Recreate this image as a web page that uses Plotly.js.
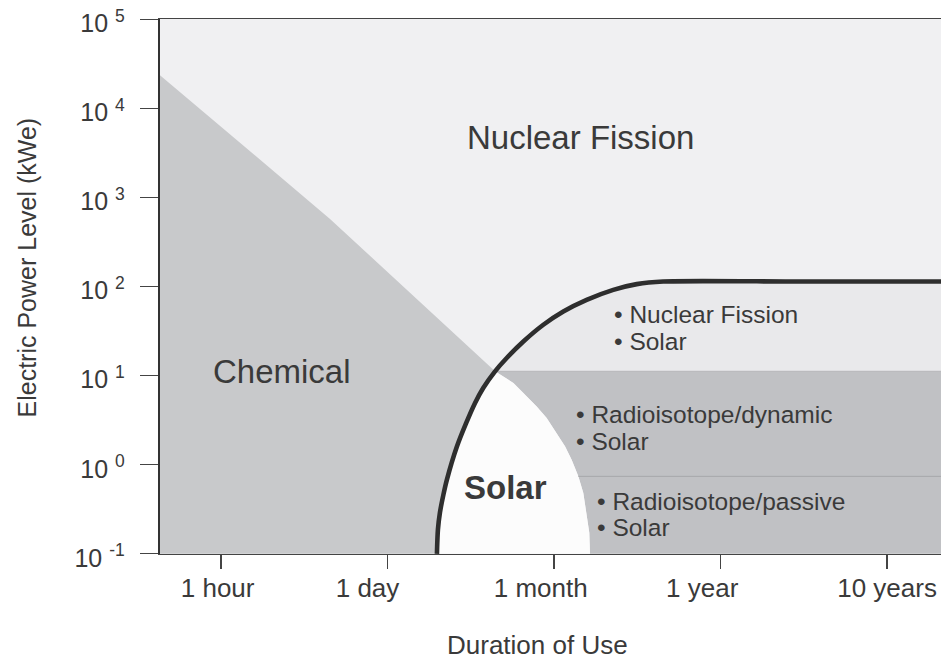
<!DOCTYPE html>
<html><head><meta charset="utf-8">
<script src="https://cdn.plot.ly/plotly-3.0.1.min.js"></script>
<style>html,body{margin:0;padding:0;background:#fff}</style>
</head><body><div id="chart" style="width:941px;height:660px"></div>
<script>
// ---- data (x = schematic duration index: 0=1 hour ... 4=10 years; y = kWe) ----
const tickPos = [0, 1, 2, 3, 4];
const tickLabels = ['1 hour', '1 day', '1 month', '1 year', '10 years'];
const labelPos = [-0.02, 0.88, 1.92, 2.89, 4.0];
const yTickVals = [0.1, 1, 10, 100, 1000, 10000, 100000];
const yTickText = ['10 <sup>-1</sup>', '10 <sup>0</sup>', '10 <sup>1</sup>', '10 <sup>2</sup>', '10 <sup>3</sup>', '10 <sup>4</sup>', '10 <sup>5</sup>'];
const xRange = [-0.366, 4.324];
const yRangeKWe = [0.1, 100000];

// chemical upper boundary (diagonal), ends at the junction point
const chemX = [-0.366, 0.655, 1.646];
const chemY = [23700, 576, 11.2];
// thick solar boundary curve (bottom -> plateau)
const curveX = [1.297, 1.303, 1.315, 1.336, 1.357, 1.417, 1.471, 1.526, 1.575, 1.646, 1.716, 1.816, 1.936, 2.056, 2.196, 2.356, 2.497, 2.656, 3.477, 4.324];
const curveY = [0.1, 0.1875, 0.290, 0.462, 0.681, 1.60, 2.89, 4.94, 7.28, 11.2, 15.8, 24.2, 37.3, 52.6, 71.1, 92.0, 106.7, 114.1, 114.1, 114.1];
const junctionIndex = 9;
// right edge of the pure-solar (white) zone
const solarEdgeX = [1.646, 1.756, 1.816, 1.896, 1.956, 2.016, 2.066, 2.106, 2.146, 2.176, 2.196, 2.212, 2.216];
const solarEdgeY = [11.2, 8.28, 6.40, 4.52, 3.35, 2.27, 1.61, 1.14, 0.741, 0.483, 0.288, 0.172, 0.1];
// level separating radioisotope/dynamic from radioisotope/passive
const splitX = [2.146, 4.324];
const splitY = [0.741, 0.741];
const upperLevel = 11.2;

// ---- build polygons from the arrays ----
const curveLowX = curveX.slice(0, junctionIndex + 1);
const curveLowY = curveY.slice(0, junctionIndex + 1);
const curveHighX = curveX.slice(junctionIndex);
const curveHighY = curveY.slice(junctionIndex);
const yMin = yRangeKWe[0];

function fillTrace(x, y, color) {
  return {type: 'scatter', mode: 'lines', x: x, y: y, fill: 'toself', fillcolor: color,
          line: {width: 0, color: color}, hoverinfo: 'skip', showlegend: false};
}

const chemical = fillTrace(
  chemX.concat(curveLowX.slice().reverse(), [xRange[0]]),
  chemY.concat(curveLowY.slice().reverse(), [yMin]), '#c8c9cb');
const radio = fillTrace(
  [solarEdgeX[0], xRange[1], xRange[1]].concat(solarEdgeX.slice().reverse()),
  [upperLevel, upperLevel, yMin].concat(solarEdgeY.slice().reverse()), '#c0c1c4');
const solarWhite = fillTrace(
  curveLowX.concat(solarEdgeX.slice(1)),
  curveLowY.concat(solarEdgeY.slice(1)), '#fcfcfc');
const fissionSolar = fillTrace(
  curveHighX.concat([xRange[1]]),
  curveHighY.concat([upperLevel]), '#e9e9eb');
const upperLine = {type: 'scatter', mode: 'lines', x: [solarEdgeX[0], xRange[1]], y: [upperLevel, upperLevel],
  line: {color: '#b4b5b8', width: 1}, hoverinfo: 'skip', showlegend: false};
const split = {type: 'scatter', mode: 'lines', x: splitX, y: splitY, xaxis: 'x2',
  line: {color: '#a6a7aa', width: 1}, hoverinfo: 'skip', showlegend: false};
const curve = {type: 'scatter', mode: 'lines', x: curveX, y: curveY,
  line: {color: '#2e2e2e', width: 4.6, shape: 'spline', smoothing: 0.8}, hoverinfo: 'skip', showlegend: false};

const FONT = 'Liberation Sans, Arial, Helvetica, sans-serif';
const TXT = '#3a3a3a';
const L = Math.log10;

function ann(text, x, logY, size, anchor, bold) {
  return {text: bold ? '<b>' + text + '</b>' : text, x: x, y: logY, xref: 'x', yref: 'y',
          showarrow: false, xanchor: anchor, yanchor: 'middle',
          font: {family: FONT, size: size, color: TXT}};
}

const annotations = [
  ann('Nuclear Fission', 2.162, 3.669, 33, 'center'),
  ann('Chemical', 0.366, 1.045, 33, 'center'),
  ann('Solar', 1.709, -0.251, 33, 'center', true),
  ann('• Nuclear Fission', 2.348, 1.688, 24.5, 'left'),
  ann('• Solar', 2.348, 1.387, 24.5, 'left'),
  ann('• Radioisotope/dynamic', 2.12, 0.562, 24.5, 'left'),
  ann('• Solar', 2.12, 0.263, 24.5, 'left'),
  ann('• Radioisotope/passive', 2.246, -0.408, 24.5, 'left'),
  ann('• Solar', 2.246, -0.71, 24.5, 'left'),
  {text: 'Duration of Use', xref: 'paper', yref: 'paper', x: 0.4834, y: -0.171,
   xanchor: 'center', yanchor: 'middle', showarrow: false, font: {family: FONT, size: 26, color: TXT}},
  {text: 'Electric Power Level (kWe)', xref: 'paper', yref: 'paper', x: -0.170, y: 0.536, textangle: -90,
   xanchor: 'center', yanchor: 'middle', showarrow: false, font: {family: FONT, size: 25, color: TXT}}
];

const layout = {
  width: 941, height: 660,
  margin: {l: 160, r: 0, t: 19, b: 106},
  paper_bgcolor: '#ffffff', plot_bgcolor: '#f0f0f2',
  showlegend: false,
  font: {family: FONT, color: TXT},
  xaxis: {range: xRange, tickvals: tickPos, showticklabels: false, ticks: 'outside', ticklen: 14,
          tickcolor: '#444', tickwidth: 1.2, showline: true, linecolor: '#444', linewidth: 1.3, mirror: true,
          showgrid: false, zeroline: false, fixedrange: true},
  xaxis2: {range: xRange, overlaying: 'x', side: 'bottom', tickvals: labelPos, ticktext: tickLabels,
           ticks: '', showline: false, showgrid: false, zeroline: false, ticklabelstandoff: 16,
           tickfont: {family: FONT, size: 26, color: TXT}, fixedrange: true},
  yaxis: {type: 'log', range: [L(yRangeKWe[0]) - 0.002, L(yRangeKWe[1]) + 0.005], tickvals: yTickVals, ticktext: yTickText,
          ticks: 'outside', ticklen: 18, tickcolor: '#444', tickwidth: 1.2, showline: true, linecolor: '#333',
          linewidth: 2.2, showgrid: false, zeroline: false, ticklabelstandoff: 10, ticklabelshift: 4,
          tickfont: {family: FONT, size: 25, color: TXT}, fixedrange: true},
  annotations: annotations
};

Plotly.newPlot('chart', [chemical, radio, solarWhite, fissionSolar, upperLine, split, curve], layout,
  {displayModeBar: false, staticPlot: true});
</script>
</body></html>
